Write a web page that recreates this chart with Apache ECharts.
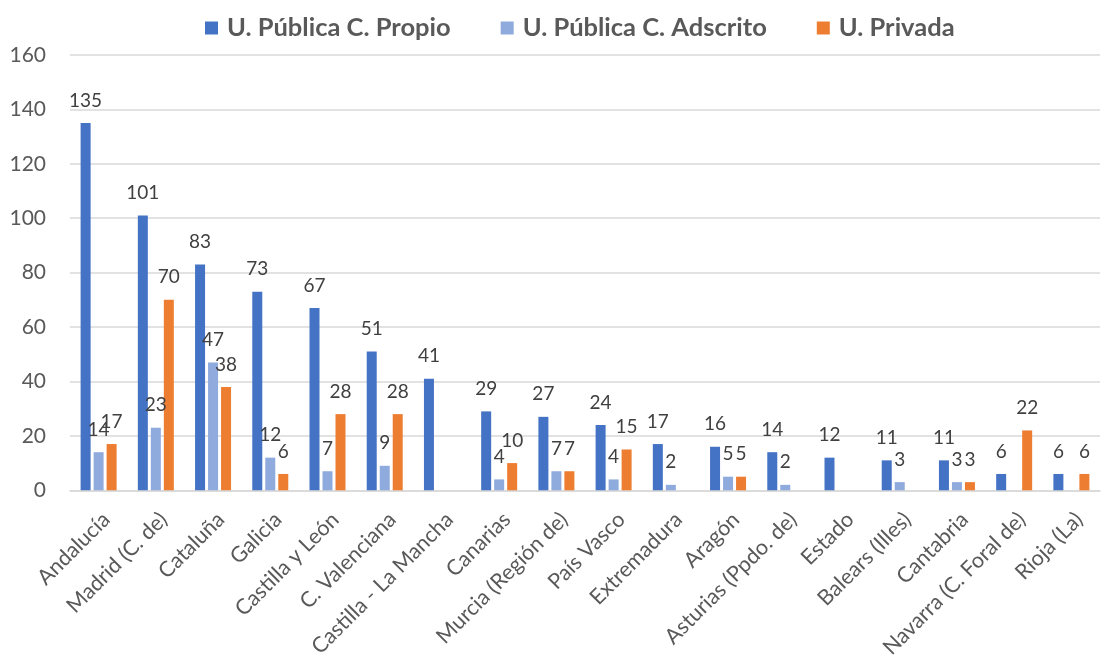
<!DOCTYPE html>
<html><head><meta charset="utf-8">
<script src="https://cdn.jsdelivr.net/npm/echarts@6/dist/echarts.min.js"></script>
<style>html,body{margin:0;padding:0;background:#fff}#c{width:1107px;height:661px}</style>
</head><body><div id="c"></div>
<script>
const categories = ['Andalucía','Madrid (C. de)','Cataluña','Galicia','Castilla y León','C. Valenciana','Castilla - La Mancha','Canarias','Murcia (Región de)','País Vasco','Extremadura','Aragón','Asturias (Ppdo. de)','Estado','Balears (Illes)','Cantabria','Navarra (C. Foral de)','Rioja (La)'];
const propio = [135,101,83,73,67,51,41,29,27,24,17,16,14,12,11,11,6,6];
const adscrito = [14,23,47,12,7,9,null,4,7,4,2,5,2,null,3,3,null,null];
const privada = [17,70,38,6,28,28,null,10,7,15,null,5,null,null,null,3,22,6];
const yTicks = [0,20,40,60,80,100,120,140,160];

const font = 'Lato, "Open Sans", sans-serif';
const chart = echarts.init(document.getElementById('c'));
function s(name, data, color){
  return {name, type:'bar', data, itemStyle:{color}, barWidth:10, barGap:'30%',
    label:{show:true, position:'top', color:'#404040', fontSize:19, fontFamily:font, distance:13}};
}
chart.setOption({
  animation:false,
  textStyle:{fontFamily:font},
  legend:{top:10, left:200, itemWidth:13, itemHeight:13, itemGap:50, icon:'rect',
    textStyle:{fontSize:25.5, fontWeight:'bold', color:'#595959', fontFamily:font, padding:[0,0,0,4]}},
  grid:{left:70, right:7, top:55, bottom:170},
  xAxis:{type:'category', data:categories,
    axisLine:{lineStyle:{color:'#d9d9d9', width:1.5}}, axisTick:{show:false},
    axisLabel:{rotate:45, fontSize:21.5, color:'#595959', interval:0, margin:18, verticalAlign:'top', fontFamily:font}},
  yAxis:{type:'value', min:yTicks[0], max:yTicks[yTicks.length-1], interval:20,
    axisLine:{show:false}, axisTick:{show:false},
    splitLine:{lineStyle:{color:'#d9d9d9', width:1.5}},
    axisLabel:{fontSize:21, color:'#595959', margin:24, fontFamily:font}},
  series:[s('U. Pública C. Propio', propio, '#4472C4'), s('U. Pública C. Adscrito', adscrito, '#8FAADC'), s('U. Privada', privada, '#ED7D31')]
});
</script></body></html>
